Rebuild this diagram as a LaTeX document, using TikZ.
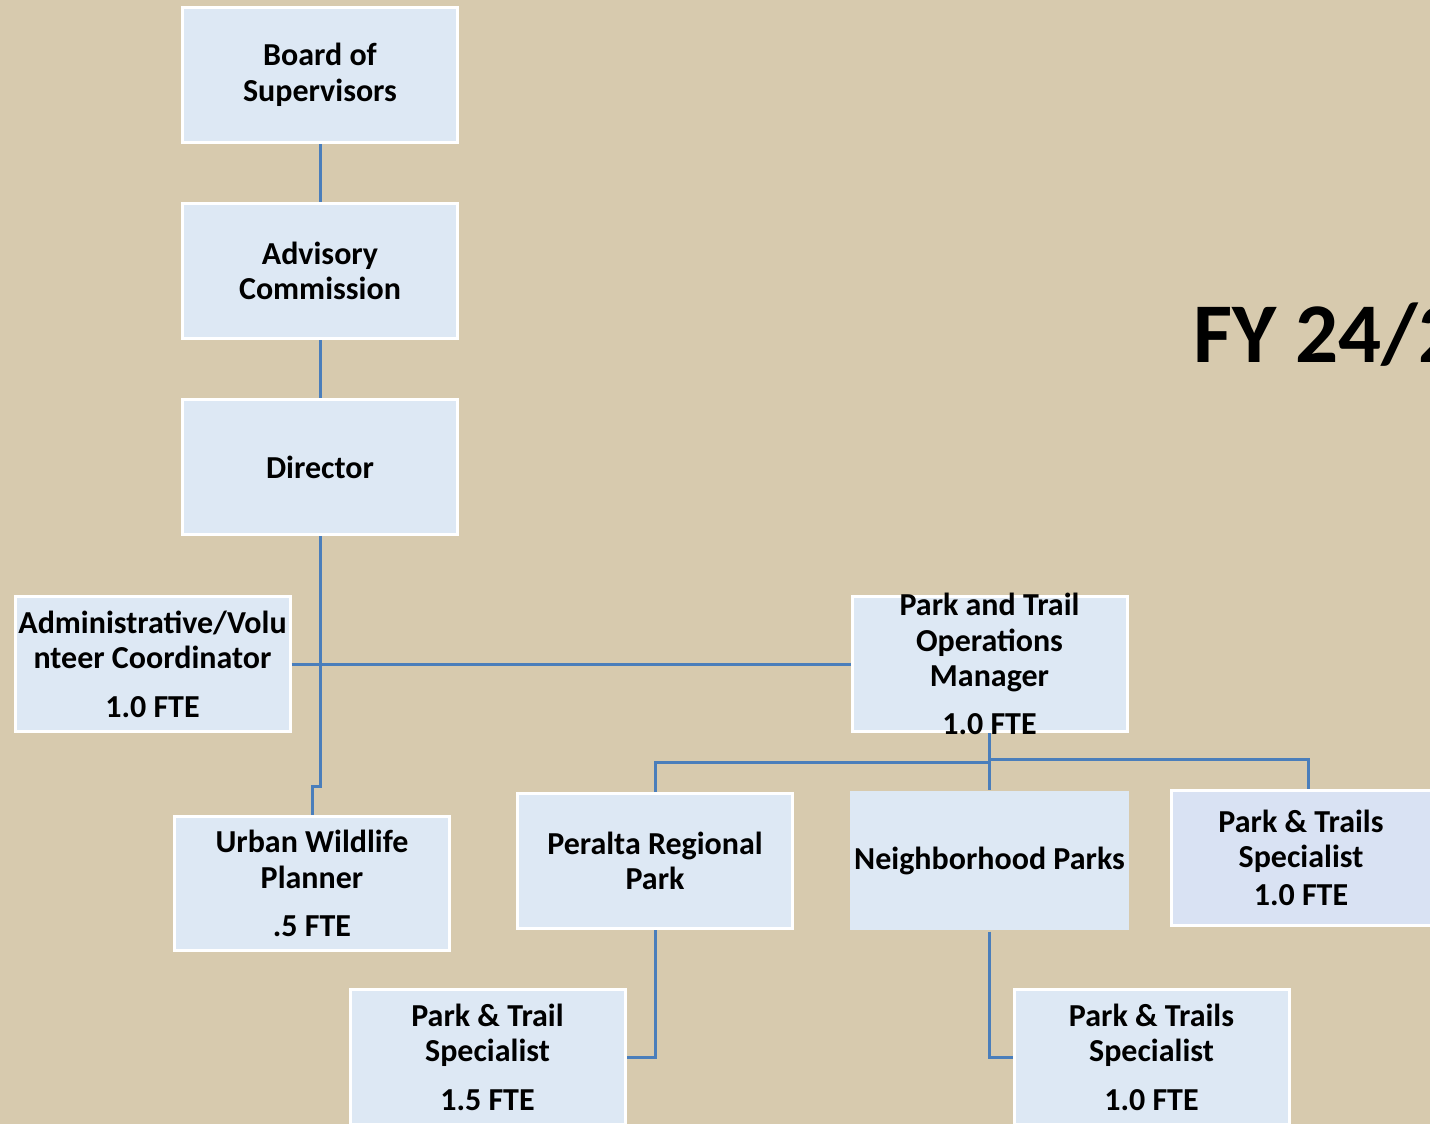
\documentclass[tikz,border=0pt]{standalone}
\usepackage{fontspec}
\setmainfont{Carlito}
\definecolor{bgtan}{HTML}{D7CAAE}
\definecolor{boxfill}{HTML}{DDE8F4}
\definecolor{boxfillb}{HTML}{D9E2F3}
\definecolor{connblue}{HTML}{4A7EBB}
\tikzset{
  box/.style={draw=white, line width=3pt, fill=boxfill, minimum width=275pt, minimum height=135pt, inner sep=0pt},
  label/.style={align=center, inner sep=0pt, font=\fontsize{32}{35.5}\selectfont\bfseries},
  conn/.style={draw=connblue, line width=3pt}
}
\begin{document}
\begin{tikzpicture}[x=1pt, y=-1pt]
\useasboundingbox (0,0) rectangle (1430,1124);
\fill[bgtan] (0,0) rectangle (1430,1124);

% boxes
\node[box] (board) at (320,75) {};
\node[box] (adv) at (320,271) {};
\node[box] (dir) at (320,467) {};
\node[box] (admin) at (152.5,664) {};
\node[box] (ops) at (989.5,664) {};
\node[box, minimum height=134pt] (urban) at (312,883.5) {};
\node[box] (peralta) at (655,861) {};
\node[box, draw=none, fill=boxfill, minimum width=279pt, minimum height=139pt] (nbh) at (989.5,860.5) {};
\node[box, fill=boxfillb, minimum width=260pt] (spec3) at (1301,857.5) {};
\node[box] (spec15) at (487.5,1057) {};
\node[box] (spec10) at (1151.5,1057) {};

% texts
\node[label] (tboard) at (board.center) {Board of\\Supervisors};
\node[label] (tadv) at (adv.center) {Advisory\\Commission};
\node[label] (tdir) at (dir.center) {Director};
\node[label] (tadmin) at (admin.center) {Administrative/Volu\\nteer Coordinator\\[13pt]1.0 FTE};
\node[label] (tops) at (ops.center) {Park and Trail\\Operations\\Manager\\[12pt]1.0 FTE};
\node[label] (turban) at (urban.center) {Urban Wildlife\\Planner\\[13pt].5 FTE};
\node[label] (tperalta) at (peralta.center) {Peralta Regional\\Park};
\node[label] (tnbh) at (nbh.center) {Neighborhood Parks};
\node[label] (tspec3) at (spec3.center) {Park \& Trails\\Specialist\\[2pt]1.0 FTE};
\node[label] (tspec15) at (spec15.center) {Park \& Trail\\Specialist\\[13pt]1.5 FTE};
\node[label] (tspec10) at (spec10.center) {Park \& Trails\\Specialist\\[13pt]1.0 FTE};

\node[anchor=base west, inner sep=0pt, font=\fontsize{85}{90}\selectfont\bfseries] (title) at (1193,362) {FY 24/2};

% connectors
\coordinate (urbjog) at (312,786);
\coordinate (busA) at (989.5,762);
\coordinate (busB) at (989.5,759);
\draw[conn] (board.south) -- (adv.north);
\draw[conn] (adv.south) -- (dir.north);
\draw[conn] (dir.south) |- (urbjog) -- (urban.north);
\draw[conn] (admin.east) -- (ops.west);
\draw[conn] (ops.south) -- (nbh.north);
\draw[conn] (busA) -| (peralta.north);
\draw[conn] (busB) -| (1308,789);
\draw[conn] (peralta.south) |- (spec15.east);
\draw[conn] (nbh.south) |- (spec10.west);
\end{tikzpicture}
\end{document}
